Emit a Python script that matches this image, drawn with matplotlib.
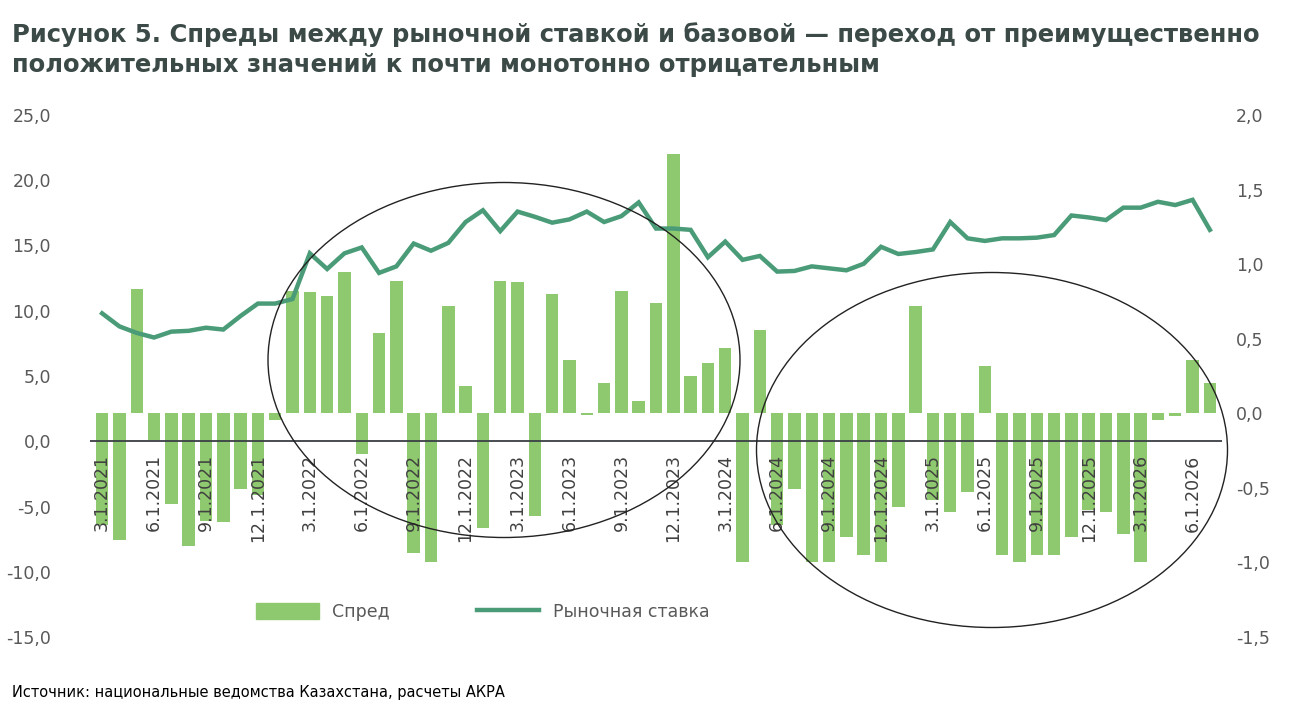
import matplotlib.pyplot as plt
from matplotlib.patches import Ellipse, Patch
from matplotlib.lines import Line2D
import pandas as pd

dates = pd.date_range("2021-03-01", periods=65, freq="MS")

spread = [-0.75, -0.85, 0.83, -0.18, -0.61, -0.89, -0.72, -0.73, -0.51, -0.55,
          -0.045, 0.82, 0.81, 0.785, 0.95, -0.27, 0.54, 0.89, -0.94, -1.0,
          0.72, 0.18, -0.77, 0.89, 0.88, -0.69, 0.80, 0.36, -0.01, 0.2,
          0.82, 0.08, 0.74, 1.74, 0.25, 0.335, 0.44, -1.0, 0.56, -0.75,
          -0.51, -1.0, -1.0, -0.83, -0.95, -1.0, -0.63, 0.72, -0.58, -0.66,
          -0.53, 0.32, -0.95, -1.0, -0.95, -0.95, -0.83, -0.65, -0.66, -0.81,
          -1.0, -0.045, -0.02, 0.36, 0.2]

market_rate = [9.8, 8.8, 8.3, 7.95, 8.4, 8.46, 8.7, 8.56, 9.6, 10.55,
               10.55, 10.9, 14.4, 13.2, 14.4, 14.85, 12.9, 13.4, 15.15, 14.6,
               15.2, 16.8, 17.7, 16.1, 17.6, 17.2, 16.75, 17.0, 17.6, 16.8,
               17.25, 18.3, 16.3, 16.3, 16.2, 14.1, 15.3, 13.9, 14.2, 13.0,
               13.05, 13.4, 13.25, 13.1, 13.6, 14.9, 14.35, 14.5, 14.7, 16.8,
               15.55, 15.35, 15.55, 15.55, 15.6, 15.8, 17.3, 17.15, 16.95, 17.9,
               17.9, 18.35, 18.1, 18.5, 16.2]

left_ticks = [-15, -10, -5, 0, 5, 10, 15, 20, 25]
right_ticks = [-1.5, -1.0, -0.5, 0.0, 0.5, 1.0, 1.5, 2.0]

W, H = 1309, 710
fig = plt.figure(figsize=(W / 100, H / 100), dpi=100)
ax = fig.add_axes([90 / W, (H - 637) / H, (1222 - 90) / W, 522 / H])
ax2 = ax.twinx()

x = list(range(len(dates)))
txt = "#595959"

ax2.bar(x, spread, width=0.72, color="#8fc96f", zorder=1)
ax.plot(x, market_rate, color="#4a9b78", lw=3.2, zorder=3, solid_joinstyle="miter")
ax.set_zorder(ax2.get_zorder() + 1)
ax.patch.set_visible(False)

ax.set_xlim(-0.7, len(x) - 0.3)
ax.set_ylim(-15, 25)
ax2.set_ylim(-1.5, 2.0)
ax.axhline(0, color="#3a3f44", lw=1.3, zorder=2)

for a in (ax, ax2):
    for s in a.spines.values():
        s.set_visible(False)
    a.tick_params(length=0, labelsize=12.5, labelcolor=txt)

ax.set_yticks(left_ticks)
ax.set_yticklabels([f"{v:.1f}".replace(".", ",") for v in left_ticks])
ax.tick_params(axis="y", pad=28)
ax2.set_yticks(right_ticks)
ax2.set_yticklabels([f"{v:.1f}".replace(".", ",") for v in right_ticks])
ax2.tick_params(axis="y", pad=10)

ax.set_xticks([])
for i in range(0, len(dates), 3):
    d = dates[i]
    ax.text(i, -1.0, f"{d.month}.1.{d.year}", rotation=90, ha="center", va="top",
            fontsize=12.5, color="#404040", zorder=4)

# ellipses in pixel coordinates
for cx, cy, w, h in [(504, 360, 472, 355), (992, 450, 471, 355)]:
    fig.add_artist(Ellipse((cx / W, 1 - cy / H), w / W, h / H,
                           transform=fig.transFigure, fill=False,
                           edgecolor="#222222", lw=1.0, zorder=10))

handles = [Patch(color="#8fc96f", label="Спред"),
           Line2D([], [], color="#4a9b78", lw=3.2, label="Рыночная ставка")]
fig.legend(handles=handles, loc="center", bbox_to_anchor=(483 / W, 1 - 612 / H),
           ncol=2, frameon=False, fontsize=12.5, labelcolor=txt,
           handlelength=3.6, handleheight=1.0, columnspacing=5)

fig.text(12 / W, 1 - 22 / H,
         "Рисунок 5. Спреды между рыночной ставкой и базовой — переход от преимущественно\n"
         "положительных значений к почти монотонно отрицательным",
         fontsize=17.5, fontweight="bold", color="#3b4a47", va="top", linespacing=1.35)
fig.text(12 / W, 1 - 692 / H, "Источник: национальные ведомства Казахстана, расчеты АКРА",
         fontsize=10.5, color="black", va="center")

fig.savefig("out.png", dpi=100)
